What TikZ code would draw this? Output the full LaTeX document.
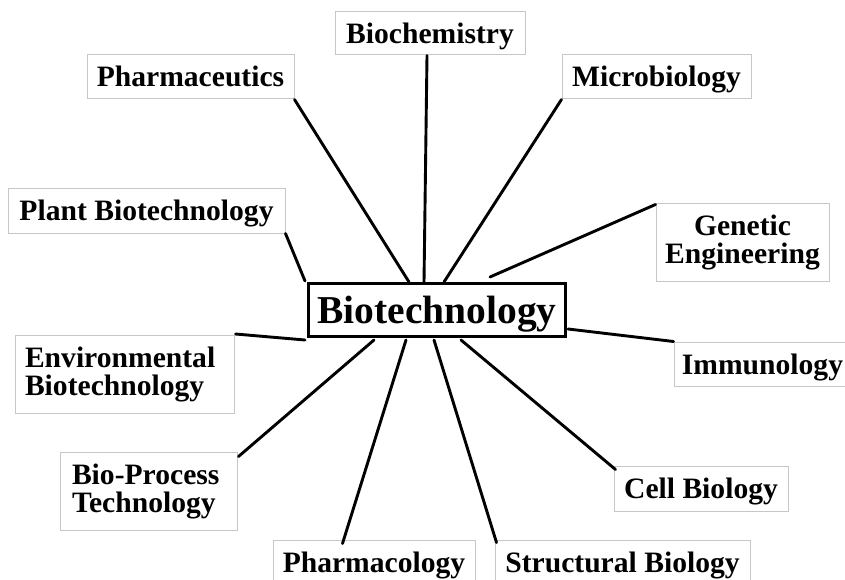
\documentclass[tikz,border=0pt]{standalone}
\usepackage{fontspec}
\setmainfont{Liberation Serif}
\usetikzlibrary{calc}
\tikzset{
  box/.style={draw=black!22, line width=1pt, fill=white, inner sep=0pt,
    font=\fontsize{29.6}{28}\selectfont\bfseries, align=center},
  one/.style={box, text height=20pt, text depth=0pt},
  two/.style={box},
  hub/.style={draw=black, line width=3.4pt, fill=white, inner sep=0pt,
    font=\fontsize{39.5}{44}\selectfont\bfseries, text height=27pt, text depth=0pt,
    minimum width=256.6pt, minimum height=52.6pt},
  link/.style={line width=2.9pt, line cap=round}
}
\begin{document}
\begin{tikzpicture}[x=1pt,y=-1pt]
\useasboundingbox (0,0) rectangle (845,580);
\clip (0,0) rectangle (845,580);
\fill[white] (0,0) rectangle (845,580);

\node[hub] (cen) at (437,310) {Biotechnology};

\node[one, minimum width=190pt, minimum height=43pt] (bioc) at (430,33.5) {Biochemistry};
\node[one, minimum width=207pt, minimum height=44pt] (pharm) at (190.5,77) {Pharmaceutics};
\node[one, minimum width=189pt, minimum height=44pt] (micro) at (656.5,77) {Microbiology};
\node[one, minimum width=277pt, minimum height=45pt] (plant) at (146.5,210.5) {Plant Biotechnology};
\node[two, minimum width=173pt, minimum height=78pt] (gen) at (742.5,242) {Genetic\\Engineering};
\node[one, minimum width=177pt, minimum height=44pt] (imm) at (762.5,364) {Immunology};
\node[two, align=left, text width=199pt, inner xsep=10pt, minimum height=78pt, yshift=1.5pt] (env) at (124.5,376) {Environmental\\Biotechnology};
\node[two, align=left, text width=153pt, inner xsep=12pt, minimum height=78pt] (bproc) at (148.5,491) {Bio-Process\\Technology};
\node[one, minimum width=174pt, minimum height=45pt] (cell) at (701,488.5) {Cell Biology};
\node[one, minimum width=202pt, minimum height=44pt] (pcol) at (374,562) {Pharmacology};
\node[one, minimum width=255pt, minimum height=44pt] (struct) at (622.5,562) {Structural Biology};

\draw[link] (pharm.south east) -- ($(cen.north west)+(102,0)$);
\draw[link] ($(bioc.south)+(-3,0)$) -- ($(cen.north west)+(117,0)$);
\draw[link] (micro.south west) -- ($(cen.north west)+(137,0)$);
\draw[link] (plant.south east) -- ($(cen.north west)+(-2,-1)$);
\draw[link] ($(gen.north west)+(0,2)$) -- ($(cen.north west)+(183,-5)$);
\draw[link] ($(cen.south east)+(1,-9)$) -- (imm.north west);
\draw[link] ($(cen.south west)+(154,2)$) -- ($(cell.north west)+(2,4)$);
\draw[link] ($(cen.south west)+(127,2)$) -- ($(struct.north west)+(2,3)$);
\draw[link] ($(cen.south west)+(99,2)$) -- ($(pcol.north west)+(70,4)$);
\draw[link] ($(cen.south west)+(67,2)$) -- ($(bproc.north east)+(1,5)$);
\draw[link] ($(cen.south west)+(-2,2)$) -- ($(env.north east)+(1,-1)$);
\end{tikzpicture}
\end{document}
